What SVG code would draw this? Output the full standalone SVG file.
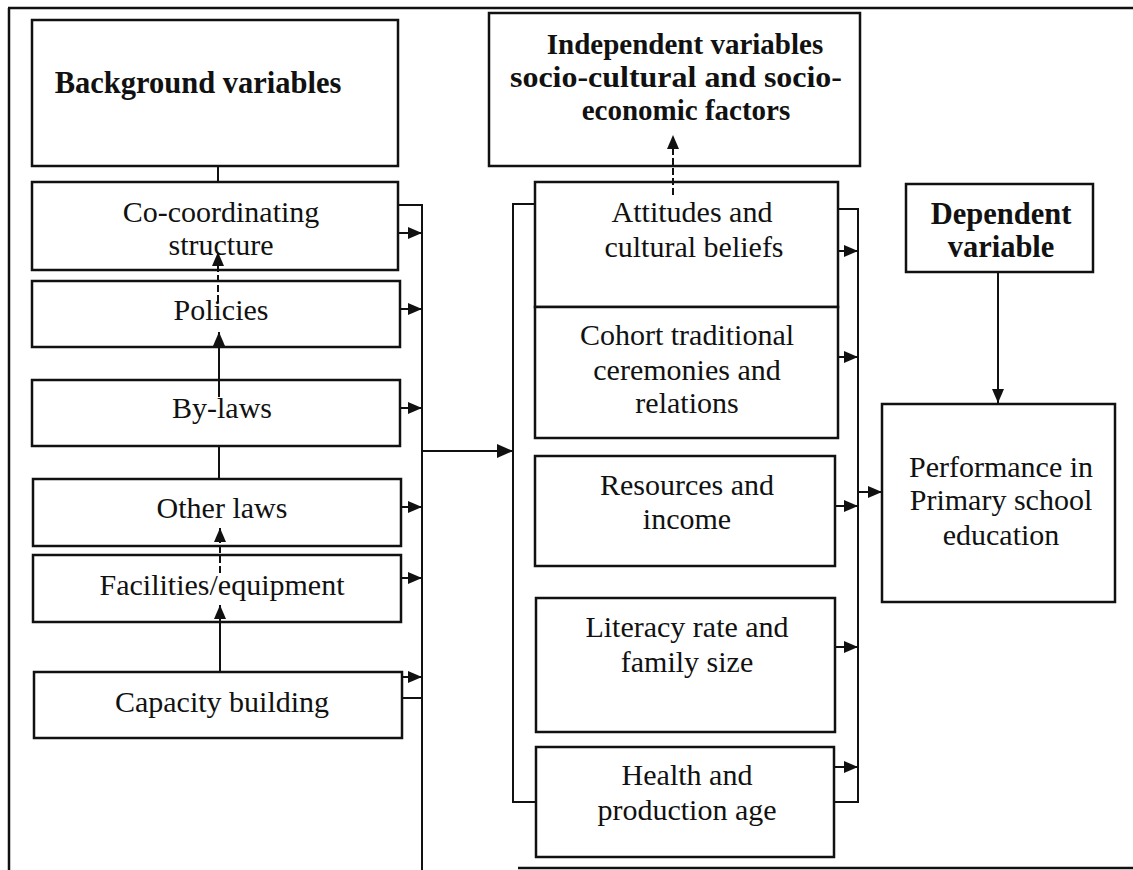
<svg xmlns="http://www.w3.org/2000/svg" width="1133" height="870" viewBox="0 0 1133 870">
  <style>
    .box { fill: #fff; stroke: #111; stroke-width: 2.5; }
    .frame { stroke: #111; stroke-width: 2.5; fill: none; }
    .ln { stroke: #111; stroke-width: 2; fill: none; }
    .dash { stroke: #111; stroke-width: 2; fill: none; stroke-dasharray: 7 3; }
    .t { font-family: "Liberation Serif", "Times New Roman", serif; font-size: 30px; fill: #111; text-anchor: middle; }
    .b { font-family: "Liberation Serif", "Times New Roman", serif; font-size: 30.5px; font-weight: bold; fill: #111; text-anchor: middle; }
    .h { font-family: "Liberation Serif", "Times New Roman", serif; font-size: 29px; font-weight: bold; fill: #111; text-anchor: middle; }
  </style>
  <defs>
    <marker id="arr" markerUnits="userSpaceOnUse" markerWidth="17" markerHeight="14" refX="16" refY="7" orient="auto">
      <path d="M0,0 L16,7 L0,14 Z" fill="#111"/>
    </marker>
    <marker id="arrs" markerUnits="userSpaceOnUse" markerWidth="15" markerHeight="12" refX="14" refY="6" orient="auto">
      <path d="M0,0 L14,6 L0,12 Z" fill="#111"/>
    </marker>
  </defs>
  <rect width="1133" height="870" fill="#fff"/>

  <!-- outer frame -->
  <g id="frame">
    <line class="frame" x1="8" y1="8" x2="1133" y2="8"/>
    <line class="frame" x1="9" y1="8" x2="9" y2="870"/>
    <line class="frame" x1="518" y1="868" x2="1133" y2="868"/>
  </g>

  <!-- left column nodes -->
  <g id="background">
    <rect class="box" x="32" y="20" width="366" height="146"/>
    <text class="b" x="198" y="93">Background variables</text>
  </g>
  <g id="coordinating">
    <rect class="box" x="32" y="182" width="366" height="88"/>
    <text class="t" x="221" y="222">Co-coordinating</text>
    <text class="t" x="221" y="255">structure</text>
  </g>
  <g id="policies">
    <rect class="box" x="32" y="281" width="368" height="66"/>
    <text class="t" x="221" y="320">Policies</text>
  </g>
  <g id="bylaws">
    <rect class="box" x="32" y="380" width="368" height="66"/>
    <text class="t" x="222" y="418">By-laws</text>
  </g>
  <g id="otherlaws">
    <rect class="box" x="33" y="479" width="368" height="67"/>
    <text class="t" x="222" y="518">Other laws</text>
  </g>
  <g id="facilities">
    <rect class="box" x="33" y="555" width="368" height="67"/>
    <text class="t" x="222" y="595">Facilities/equipment</text>
  </g>
  <g id="capacity">
    <rect class="box" x="34" y="672" width="368" height="66"/>
    <text class="t" x="222" y="712">Capacity building</text>
  </g>

  <!-- middle column nodes -->
  <g id="independent">
    <rect class="box" x="489" y="13" width="371" height="153"/>
    <text class="h" x="685" y="54">Independent variables</text>
    <text class="h" x="676" y="87" textLength="332" lengthAdjust="spacingAndGlyphs">socio-cultural and socio-</text>
    <text class="h" x="686" y="120">economic factors</text>
  </g>
  <g id="attitudes">
    <rect class="box" x="535" y="182" width="303" height="125"/>
    <text class="t" x="692" y="222">Attitudes and</text>
    <text class="t" x="694" y="257">cultural beliefs</text>
  </g>
  <g id="cohort">
    <rect class="box" x="535" y="307" width="303" height="131"/>
    <text class="t" x="687" y="345">Cohort traditional</text>
    <text class="t" x="687" y="380">ceremonies and</text>
    <text class="t" x="687" y="413">relations</text>
  </g>
  <g id="resources">
    <rect class="box" x="535" y="456" width="300" height="110"/>
    <text class="t" x="687" y="495">Resources and</text>
    <text class="t" x="687" y="529">income</text>
  </g>
  <g id="literacy">
    <rect class="box" x="536" y="598" width="299" height="134"/>
    <text class="t" x="687" y="637">Literacy rate and</text>
    <text class="t" x="687" y="672">family size</text>
  </g>
  <g id="health">
    <rect class="box" x="536" y="747" width="298" height="110"/>
    <text class="t" x="687" y="785">Health and</text>
    <text class="t" x="687" y="820">production age</text>
  </g>

  <!-- right column nodes -->
  <g id="dependent">
    <rect class="box" x="906" y="184" width="187" height="88"/>
    <text class="b" x="1001" y="224">Dependent</text>
    <text class="b" x="1001" y="257">variable</text>
  </g>
  <g id="performance">
    <rect class="box" x="882" y="404" width="233" height="198"/>
    <text class="t" x="1001" y="477">Performance in</text>
    <text class="t" x="1001" y="510">Primary school</text>
    <text class="t" x="1001" y="545">education</text>
  </g>

  <!-- connectors -->
  <g id="connectors">
    <!-- left vertical chain -->
    <line class="ln" x1="218" y1="166" x2="218" y2="182"/>
    <line class="dash" x1="218" y1="302" x2="218" y2="252" marker-end="url(#arrs)"/>
    <line class="ln" x1="219" y1="397" x2="219" y2="332" marker-end="url(#arrs)"/>
    <line class="ln" x1="219" y1="446" x2="219" y2="479"/>
    <line class="dash" x1="220" y1="573" x2="220" y2="528" marker-end="url(#arrs)"/>
    <line class="ln" x1="220" y1="672" x2="220" y2="605" marker-end="url(#arrs)"/>

    <!-- left bus -->
    <polyline class="ln" points="398,205 422,205 422,870"/>
    <line class="ln" x1="398" y1="233" x2="422" y2="233" marker-end="url(#arrs)"/>
    <line class="ln" x1="400" y1="309" x2="422" y2="309" marker-end="url(#arrs)"/>
    <line class="ln" x1="400" y1="408" x2="422" y2="408" marker-end="url(#arrs)"/>
    <line class="ln" x1="401" y1="507" x2="422" y2="507" marker-end="url(#arrs)"/>
    <line class="ln" x1="401" y1="578" x2="422" y2="578" marker-end="url(#arrs)"/>
    <line class="ln" x1="402" y1="677" x2="422" y2="677" marker-end="url(#arrs)"/>
    <line class="ln" x1="402" y1="698" x2="422" y2="698"/>

    <!-- main arrow to middle bracket -->
    <line class="ln" x1="422" y1="451" x2="513" y2="451" marker-end="url(#arr)"/>

    <!-- middle left bracket -->
    <polyline class="ln" points="535,204 513,204 513,802 536,802"/>

    <!-- attitudes to header -->
    <line class="dash" x1="673" y1="195" x2="673" y2="135" marker-end="url(#arrs)"/>

    <!-- middle right bracket -->
    <polyline class="ln" points="838,209 858,209 858,802 834,802"/>
    <line class="ln" x1="838" y1="251" x2="858" y2="251" marker-end="url(#arrs)"/>
    <line class="ln" x1="838" y1="357" x2="858" y2="357" marker-end="url(#arrs)"/>
    <line class="ln" x1="835" y1="506" x2="858" y2="506" marker-end="url(#arrs)"/>
    <line class="ln" x1="835" y1="647" x2="858" y2="647" marker-end="url(#arrs)"/>
    <line class="ln" x1="834" y1="767" x2="858" y2="767" marker-end="url(#arrs)"/>

    <!-- to performance -->
    <line class="ln" x1="858" y1="492" x2="882" y2="492" marker-end="url(#arrs)"/>

    <!-- dependent to performance -->
    <line class="ln" x1="998" y1="272" x2="998" y2="403" marker-end="url(#arrs)"/>
  </g>
</svg>
